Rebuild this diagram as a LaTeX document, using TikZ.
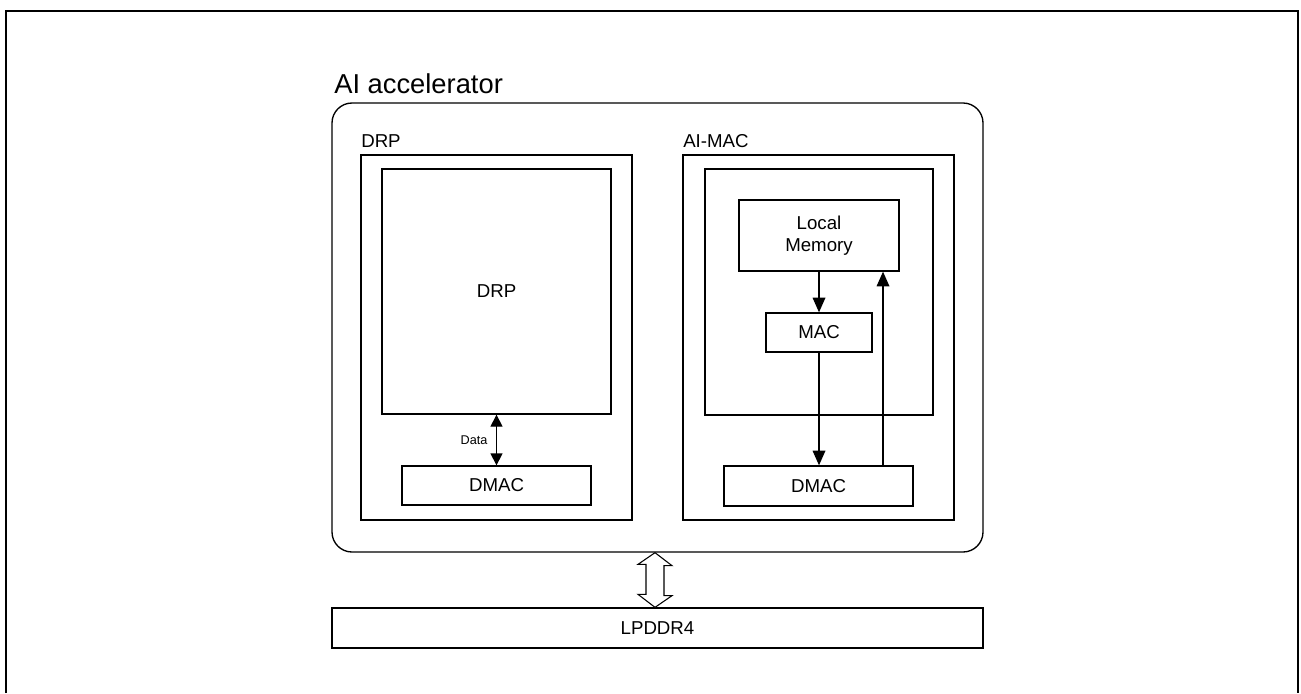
\documentclass[tikz,border=0pt]{standalone}
\usepackage{fontspec}
\setmainfont{Liberation Sans}
\usetikzlibrary{arrows.meta,calc}

\begin{document}
\begin{tikzpicture}[
  x=0.75pt,y=-0.75pt,
  font=\fontsize{14}{16}\selectfont,
  box/.style={draw,line width=1pt,align=center,inner sep=0pt},
  title/.style={anchor=base west,inner sep=0pt},
  arr/.style={-{Triangle[length=11pt,width=9.5pt]},line width=1pt},
  dblarr/.style={{Triangle[length=9pt,width=9pt]}-{Triangle[length=9pt,width=9pt]},line width=1pt},
  bus/.style={draw,line width=0.8pt,fill=white,line join=miter},
  frame/.style={line width=1.5pt}
]
\useasboundingbox (0,0) rectangle (1301,693);
\draw[frame] (6,693) -- (6,11) -- (1298,11) -- (1298,693);

% accelerator block
\node[box,rounded corners=15pt,minimum width=488.25pt,minimum height=336.75pt] (accel) at (657.5,327.5) {};
\node[title,font=\fontsize{20.5}{24}\selectfont] (acceltitle) at (334,93) {AI accelerator};

% DRP side
\node[box,minimum width=203.25pt,minimum height=273.75pt] (drp) at (496.5,337.5) {};
\node[title] (drptitle) at (361,147) {DRP};
\node[box,minimum width=171.75pt,minimum height=183.75pt] (drpcore) at (496.5,291.5) {DRP};
\node[box,minimum width=141.75pt,minimum height=29.25pt] (drpdmac) at (496.5,485.5) {DMAC};

% AI-MAC side
\node[box,minimum width=203.25pt,minimum height=273.75pt] (aimac) at (818.5,337.5) {};
\node[title] (aimactitle) at (683,147) {AI-MAC};
\node[box,minimum width=171pt,minimum height=184.5pt] (maccore) at (819,292) {};
\node[box,minimum width=120pt,minimum height=53.25pt] (locmem) at (819,235.5) {Local\\Memory};
\node[box,minimum width=79.5pt,minimum height=29.25pt] (mac) at (819,332.5) {MAC};
\node[box,minimum width=141.75pt,minimum height=30pt] (macdmac) at (818.5,486) {DMAC};

% memory
\node[box,minimum width=488.25pt,minimum height=30pt] (lpddr) at (657.5,628) {LPDDR4};

\coordinate (upx) at (883,0);
\coordinate (busx) at (655,0);

\draw[dblarr] (drpcore.south) -- node[left=3pt,font=\fontsize{9.5}{11}\selectfont] {Data} (drpdmac.north);
\draw[arr] (locmem.south) -- (mac.north);
\draw[arr] (mac.south) -- (macdmac.north -| mac.south);
\draw[arr] (macdmac.north -| upx) -- (locmem.south -| upx);

% bus between accelerator and LPDDR4
\draw[bus] (accel.south -| busx) -- ++(17,13) -- ++(-8,0) -- ++(0,30) -- ++(8,0)
  -- (lpddr.north -| busx) -- ++(-17,-13) -- ++(8,0) -- ++(0,-30) -- ++(-8,0) -- cycle;
\end{tikzpicture}
\end{document}
